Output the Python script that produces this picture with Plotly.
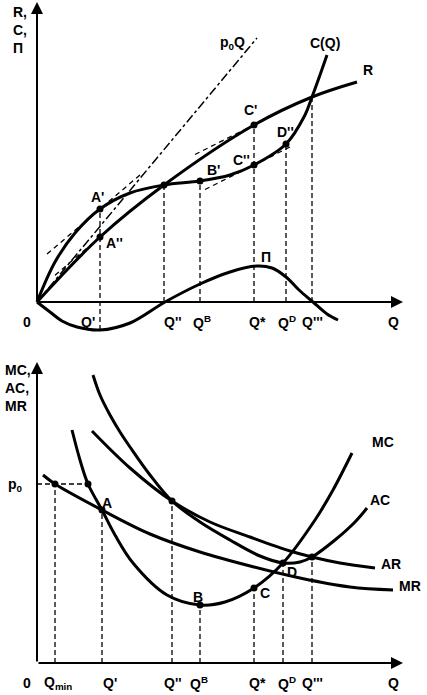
import plotly.graph_objects as go

# ---------------- TOP PANEL: R, C, П (units: Q, value) ----------------
R_Q = [0, 63, 127, 217, 275, 320]
R_V = [0, 65, 117, 177, 205, 220]

C_Q = [0, 18, 38, 63, 93, 127, 163, 193, 217, 249, 268, 275, 283, 290]
C_V = [0, 40, 69, 93, 109, 117, 121, 127, 137, 158, 187, 205, 227, 247]

PI_Q = [0, 13, 25, 40, 63, 93, 128, 163, 193, 220, 235, 249, 262, 276, 290, 301]
PI_V = [0, -10, -19, -25, -28, -21, 0, 18, 30, 36, 34, 25, 12, 0, -12, -18]

P0Q_Q = [0, 220]
P0Q_V = [0, 264]

# tangents: (point Q, point V, slope, Q from, Q to)
TAN_Q0 = [63, 63, 217, 217]
TAN_V0 = [93, 65, 177, 137]
TAN_SLOPE = [0.85, 0.85, 0.5, 0.5]
TAN_FROM = [10, 18, 158, 168]
TAN_TO = [105, 98, 255, 255]

TOP_DOT_Q = [63, 63, 127, 163, 217, 217, 249]
TOP_DOT_V = [93, 65, 117, 121, 177, 137, 158]

TOP_VLINE_Q = [63, 127, 163, 217, 249, 275]
TOP_VLINE_LO = [-28, 0, 0, 0, 0, 0]
TOP_VLINE_HI = [93, 117, 121, 177, 158, 203]

TOP_TICK_TEXT = ["0", "Q'", "Q''", "Q<sup>B</sup>", "Q*", "Q<sup>D</sup>", "Q'''", "Q"]
TOP_TICK_Q = [-10, 51, 136, 165, 220, 250, 275, 356]

TOP_LABEL_TEXT = ["p<sub>0</sub>Q", "C(Q)", "R", "C'", "C''", "D''", "B'", "A'", "A''", "П"]
TOP_LABEL_Q = [195, 288, 331, 213, 204, 248, 176, 60, 77, 229]
TOP_LABEL_V = [259, 259, 232, 192, 142, 170, 132, 105, 59, 45]

# ---------------- BOTTOM PANEL: MC, AC, AR, MR ----------------
MC_Q = [35, 43, 51, 65, 78, 96, 130, 163, 188, 217, 246, 278, 296, 315]
MC_V = [233, 203, 179, 153, 128, 100, 68, 58, 61, 75, 100, 143, 173, 210]

MR_Q = [6, 18, 65, 113, 163, 217, 263, 313, 356]
MR_V = [188, 179, 153, 129, 111, 96, 85, 76, 73]

AR_Q = [55, 93, 135, 173, 213, 253, 275, 303, 338]
AR_V = [232, 195, 162, 141, 126, 112, 106, 100, 95]

AC_Q = [56, 63, 73, 83, 93, 113, 135, 163, 193, 223, 246, 263, 275, 298, 318, 330]
AC_V = [288, 268, 248, 231, 216, 188, 162, 141, 123, 107, 100, 101, 106, 123, 141, 155]

P0 = 179
BOT_DOT_Q = [18, 51, 65, 135, 163, 217, 246, 275]
BOT_DOT_V = [179, 179, 153, 162, 58, 75, 100, 106]

BOT_VLINE_Q = [18, 65, 135, 163, 217, 246, 275]
BOT_VLINE_HI = [179, 153, 162, 58, 75, 100, 106]

BOT_TICK_TEXT = ["0", "Q<sub>min</sub>", "Q'", "Q''", "Q<sup>B</sup>", "Q*", "Q<sup>D</sup>", "Q'''", "Q"]
BOT_TICK_Q = [-10, 21, 73, 136, 162, 220, 250, 275, 356]

BOT_LABEL_TEXT = ["MC", "AC", "AR", "MR", "A", "B", "C", "D", "p<sub>0</sub>"]
BOT_LABEL_Q = [346, 343, 354, 373, 70, 161, 228, 255, -22]
BOT_LABEL_V = [221, 163, 99, 77, 160, 66, 70, 91, 178]

FONT = dict(family="Liberation Sans, Arial, sans-serif", size=14, color="black")

fig = go.Figure()

def curve(q, v, ax, width=3, dash=None, shape="spline"):
    fig.add_trace(go.Scatter(x=q, y=v, mode="lines", xaxis=ax[0], yaxis=ax[1],
                             line=dict(color="black", width=width, dash=dash, shape=shape),
                             hoverinfo="skip", showlegend=False))

top = ("x", "y")
bot = ("x2", "y2")

# top curves
curve(R_Q, R_V, top)
curve(C_Q, C_V, top)
curve(PI_Q, PI_V, top)
curve(P0Q_Q, P0Q_V, top, width=1.5, dash="dashdot", shape="linear")
for q0, v0, s, a, b in zip(TAN_Q0, TAN_V0, TAN_SLOPE, TAN_FROM, TAN_TO):
    curve([a, b], [v0 + s * (a - q0), v0 + s * (b - q0)], top, width=1.3, dash="5px,4px", shape="linear")
for q, lo, hi in zip(TOP_VLINE_Q, TOP_VLINE_LO, TOP_VLINE_HI):
    curve([q, q], [lo, hi], top, width=1.3, dash="5px,3px", shape="linear")
fig.add_trace(go.Scatter(x=TOP_DOT_Q, y=TOP_DOT_V, mode="markers", xaxis="x", yaxis="y",
                         marker=dict(color="black", size=7), hoverinfo="skip", showlegend=False))

# bottom curves
curve(MC_Q, MC_V, bot)
curve(MR_Q, MR_V, bot)
curve(AR_Q, AR_V, bot)
curve(AC_Q, AC_V, bot)
curve([0, BOT_DOT_Q[1]], [P0, P0], bot, width=1.3, dash="5px,3px", shape="linear")
for q, hi in zip(BOT_VLINE_Q, BOT_VLINE_HI):
    curve([q, q], [0, hi], bot, width=1.3, dash="5px,3px", shape="linear")
fig.add_trace(go.Scatter(x=BOT_DOT_Q, y=BOT_DOT_V, mode="markers", xaxis="x2", yaxis="y2",
                         marker=dict(color="black", size=7), hoverinfo="skip", showlegend=False))

ann = []
def axis_arrow(xr, yr, x, y):
    ann.append(dict(x=x, y=y, ax=0, ay=0, xref=xr, yref=yr, axref=xr, ayref=yr, text="",
                    showarrow=True, arrowhead=2, arrowsize=1.2, arrowwidth=2, arrowcolor="black",
                    standoff=0, startstandoff=0))

axis_arrow("x", "y", 0, 300)
axis_arrow("x", "y", 366, 0)
axis_arrow("x2", "y2", 0, 301)
axis_arrow("x2", "y2", 366, 0)

def text(xr, yr, x, y, t, xanchor="center"):
    ann.append(dict(x=x, y=y, xref=xr, yref=yr, text="<b>" + t + "</b>", showarrow=False,
                    font=FONT, xanchor=xanchor, yanchor="middle"))

for t, q in zip(TOP_TICK_TEXT, TOP_TICK_Q):
    text("x", "y", q, -20, t)
for t, q, v in zip(TOP_LABEL_TEXT, TOP_LABEL_Q, TOP_LABEL_V):
    text("x", "y", q, v, t)
for t, q in zip(BOT_TICK_TEXT, BOT_TICK_Q):
    text("x2", "y2", q, -20, t)
for t, q, v in zip(BOT_LABEL_TEXT, BOT_LABEL_Q, BOT_LABEL_V):
    text("x2", "y2", q, v, t)

ann.append(dict(x=-17, y=272, xref="x", yref="y", text="<b>R,<br>C,<br>П</b>", showarrow=False,
                font=FONT, xanchor="center", yanchor="middle", align="left"))
ann.append(dict(x=-19, y=275, xref="x2", yref="y2", text="<b>MC,<br>AC,<br>MR</b>", showarrow=False,
                font=FONT, xanchor="center", yanchor="middle", align="left"))

fig.update_layout(
    width=427, height=695, margin=dict(l=0, r=0, t=0, b=0),
    paper_bgcolor="white", plot_bgcolor="white", showlegend=False,
    xaxis=dict(domain=[0, 1], range=[-37, 390], visible=False, fixedrange=True),
    yaxis=dict(domain=[0.5, 1], range=[-45.5, 302], visible=False, fixedrange=True),
    xaxis2=dict(domain=[0, 1], range=[-37, 390], visible=False, fixedrange=True),
    yaxis2=dict(domain=[0, 0.5], range=[-32, 315.5], visible=False, fixedrange=True),
    annotations=ann,
)

fig.write_html("out.html", config={"displayModeBar": False},
               post_script="document.body.style.margin='0';document.body.style.overflow='hidden';")
